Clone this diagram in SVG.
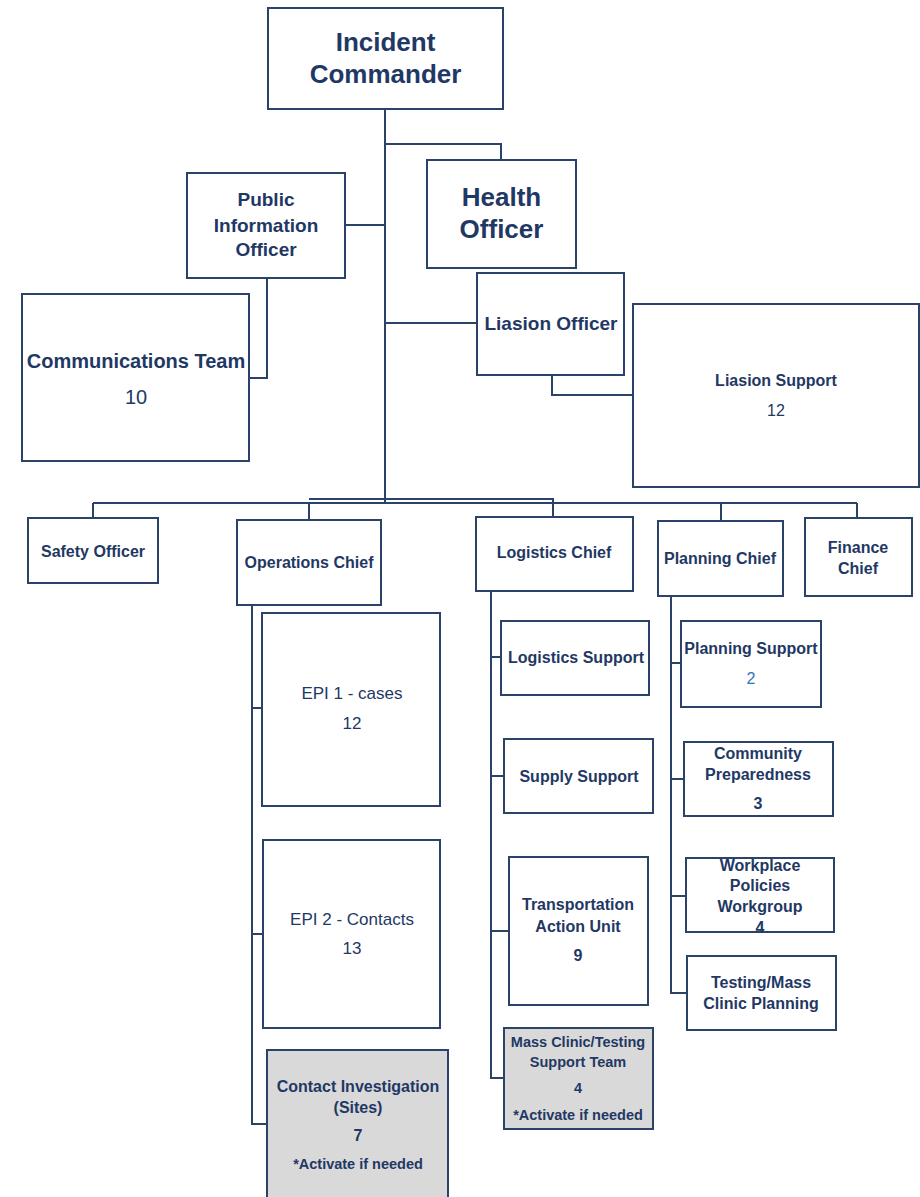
<svg xmlns="http://www.w3.org/2000/svg" width="920" height="1197" viewBox="0 0 920 1197">
<style>
.b{fill:#ffffff;stroke:#2b4368;stroke-width:2}
.g{fill:#d9d9d9;stroke:#2b4368;stroke-width:2}
.c{fill:none;stroke:#2b4368;stroke-width:2}
text{font-family:"Liberation Sans",Arial,sans-serif;fill:#1f3864;text-anchor:middle;font-weight:bold}
.t26{font-size:26px}
.t19{font-size:19px}
.t20{font-size:20px}
.t16{font-size:16px}
.t17{font-size:17px}
.t14{font-size:14.5px}
.n{font-weight:normal}
</style>
<rect width="920" height="1197" fill="#ffffff"/>
<g id="connectors">
<path class="c" d="M385,109 V503"/>
<path class="c" d="M385,144 H501 V160"/>
<path class="c" d="M345,225 H385"/>
<path class="c" d="M267,278 V378 H249"/>
<path class="c" d="M385,323 H477"/>
<path class="c" d="M552,375 V395 H633"/>
<path class="c" d="M93,503 H857"/>
<path class="c" d="M309,499 H553 V517"/>
<path class="c" d="M93,503 V518"/>
<path class="c" d="M309,503 V520"/>
<path class="c" d="M721,503 V521"/>
<path class="c" d="M857,503 V518"/>
<path class="c" d="M252,605 V1124 H267"/>
<path class="c" d="M252,708 H262"/>
<path class="c" d="M252,934 H263"/>
<path class="c" d="M491,591 V1078 H504"/>
<path class="c" d="M491,657 H501"/>
<path class="c" d="M491,776 H504"/>
<path class="c" d="M491,931 H509"/>
<path class="c" d="M671,596 V993 H687"/>
<path class="c" d="M671,663 H681"/>
<path class="c" d="M671,779 H684"/>
<path class="c" d="M671,896 H686"/>
</g>
<g id="incident-commander">
<rect class="b" x="268" y="8" width="235" height="101"/>
<text class="t26" x="385.5" y="51">Incident</text>
<text class="t26" x="385.5" y="83">Commander</text>
</g>
<g id="health-officer">
<rect class="b" x="427" y="160" width="149" height="108"/>
<text class="t26" x="501.5" y="206">Health</text>
<text class="t26" x="501.5" y="238">Officer</text>
</g>
<g id="public-information-officer">
<rect class="b" x="187" y="173" width="158" height="105"/>
<text class="t19" x="266" y="206">Public</text>
<text class="t19" x="266" y="232">Information</text>
<text class="t19" x="266" y="256">Officer</text>
</g>
<g id="communications-team">
<rect class="b" x="22" y="294" width="227" height="167"/>
<text class="t20" x="136" y="368">Communications Team</text>
<text class="t20 n" x="136" y="404">10</text>
</g>
<g id="liaison-officer">
<rect class="b" x="477" y="273" width="147" height="102"/>
<text class="t19" x="551" y="330">Liasion Officer</text>
</g>
<g id="liaison-support">
<rect class="b" x="633" y="304" width="286" height="183"/>
<text class="t16" x="776" y="386">Liasion Support</text>
<text class="t16 n" x="776" y="416">12</text>
</g>
<g id="safety-officer">
<rect class="b" x="28" y="518" width="130" height="65"/>
<text class="t16" x="93" y="557">Safety Officer</text>
</g>
<g id="operations-chief">
<rect class="b" x="237" y="520" width="144" height="85"/>
<text class="t16" x="309" y="568">Operations Chief</text>
</g>
<g id="logistics-chief">
<rect class="b" x="476" y="517" width="157" height="74"/>
<text class="t16" x="554" y="558">Logistics Chief</text>
</g>
<g id="planning-chief">
<rect class="b" x="658" y="521" width="125" height="75"/>
<text class="t16" x="720" y="564">Planning Chief</text>
</g>
<g id="finance-chief">
<rect class="b" x="805" y="518" width="107" height="78"/>
<text class="t16" x="858" y="553">Finance</text>
<text class="t16" x="858" y="574">Chief</text>
</g>
<g id="epi-1">
<rect class="b" x="262" y="613" width="178" height="193"/>
<text class="t17 n" x="352" y="699">EPI 1 - cases</text>
<text class="t17 n" x="352" y="729">12</text>
</g>
<g id="epi-2">
<rect class="b" x="263" y="840" width="177" height="188"/>
<text class="t17 n" x="352" y="925">EPI 2 - Contacts</text>
<text class="t17 n" x="352" y="954">13</text>
</g>
<g id="contact-investigation">
<rect class="g" x="267" y="1050" width="181" height="160"/>
<text class="t16" x="358" y="1092">Contact Investigation</text>
<text class="t16" x="358" y="1113">(Sites)</text>
<text class="t16" x="358" y="1141">7</text>
<text class="t14" x="358" y="1169">*Activate if needed</text>
</g>
<g id="logistics-support">
<rect class="b" x="501" y="621" width="148" height="74"/>
<text class="t16" x="576" y="663">Logistics Support</text>
</g>
<g id="supply-support">
<rect class="b" x="504" y="739" width="149" height="74"/>
<text class="t16" x="579" y="782">Supply Support</text>
</g>
<g id="transportation-action-unit">
<rect class="b" x="509" y="857" width="139" height="148"/>
<text class="t16" x="578" y="910">Transportation</text>
<text class="t16" x="578" y="932">Action Unit</text>
<text class="t16" x="578" y="961">9</text>
</g>
<g id="mass-clinic-testing-support">
<rect class="g" x="504" y="1028" width="149" height="101"/>
<text class="t14" x="578" y="1047">Mass Clinic/Testing</text>
<text class="t14" x="578" y="1067">Support Team</text>
<text class="t14" x="578" y="1093">4</text>
<text class="t14" x="578" y="1120">*Activate if needed</text>
</g>
<g id="planning-support">
<rect class="b" x="681" y="621" width="140" height="86"/>
<text class="t16" x="751" y="654">Planning Support</text>
<text class="t16 n" x="751" y="684" style="fill:#2e75b6">2</text>
</g>
<g id="community-preparedness">
<rect class="b" x="684" y="742" width="149" height="74"/>
<text class="t16" x="758" y="759">Community</text>
<text class="t16" x="758" y="780">Preparedness</text>
<text class="t16" x="758" y="809">3</text>
</g>
<g id="workplace-policies-workgroup">
<rect class="b" x="686" y="858" width="148" height="74"/>
<text class="t16" x="760" y="871">Workplace</text>
<text class="t16" x="760" y="891">Policies</text>
<text class="t16" x="760" y="912">Workgroup</text>
<text class="t16" x="760" y="933">4</text>
</g>
<g id="testing-mass-clinic-planning">
<rect class="b" x="687" y="956" width="149" height="74"/>
<text class="t16" x="761" y="988">Testing/Mass</text>
<text class="t16" x="761" y="1009">Clinic Planning</text>
</g>
</svg>
